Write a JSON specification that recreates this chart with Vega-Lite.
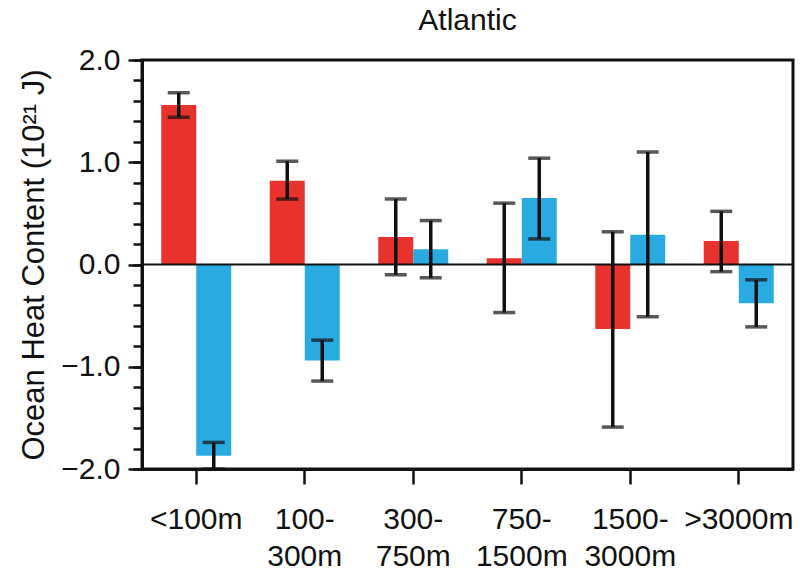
{
  "$schema": "https://vega.github.io/schema/vega-lite/v6.json",
  "autosize": {"type": "none"},
  "width": 651,
  "height": 409,
  "padding": {"left": 142, "top": 60, "right": 7, "bottom": 103},
  "background": "white",
  "title": {"text": "Atlantic", "fontSize": 30, "font": "Liberation Sans", "fontWeight": "normal", "color": "#111111", "anchor": "middle", "baseline": "bottom", "offset": 25, "dy": 46},
  "config": {"view": {"stroke": "#111111", "strokeWidth": 3}, "font": "Liberation Sans"},
  "data": {"values": [
    {"depth": "<100m", "series": "A", "value": 1.56, "lo": 1.44, "hi": 1.68},
    {"depth": "<100m", "series": "B", "value": -1.87, "lo": -2.0, "hi": -1.74},
    {"depth": "100-300m", "series": "A", "value": 0.82, "lo": 0.64, "hi": 1.01},
    {"depth": "100-300m", "series": "B", "value": -0.94, "lo": -1.14, "hi": -0.74},
    {"depth": "300-750m", "series": "A", "value": 0.27, "lo": -0.10, "hi": 0.64},
    {"depth": "300-750m", "series": "B", "value": 0.15, "lo": -0.13, "hi": 0.43},
    {"depth": "750-1500m", "series": "A", "value": 0.06, "lo": -0.47, "hi": 0.60},
    {"depth": "750-1500m", "series": "B", "value": 0.65, "lo": 0.25, "hi": 1.04},
    {"depth": "1500-3000m", "series": "A", "value": -0.63, "lo": -1.59, "hi": 0.32},
    {"depth": "1500-3000m", "series": "B", "value": 0.29, "lo": -0.51, "hi": 1.10},
    {"depth": ">3000m", "series": "A", "value": 0.23, "lo": -0.07, "hi": 0.52},
    {"depth": ">3000m", "series": "B", "value": -0.38, "lo": -0.61, "hi": -0.15}
  ]},
  "resolve": {"axis": {"y": "independent"}},
  "layer": [
    {
      "mark": {"type": "bar"},
      "encoding": {
        "x": {"field": "depth", "type": "nominal", "sort": ["<100m", "100-300m", "300-750m", "750-1500m", "1500-3000m", ">3000m"],
          "scale": {"paddingInner": 0.355, "paddingOuter": 0.1775},
          "axis": {"title": null, "labelAngle": 0, "labelFontSize": 30, "labelLineHeight": 37, "labelColor": "#111111", "labelPadding": 20, "labelDx": -6,
            "tickSize": 15, "tickWidth": 2.5, "tickColor": "#111111", "domainColor": "#111111", "domainWidth": 3,
            "labelExpr": "indexof(datum.label, '-') > 0 ? [substring(datum.label, 0, indexof(datum.label, '-') + 1), substring(datum.label, indexof(datum.label, '-') + 1)] : datum.label"}},
        "xOffset": {"field": "series", "type": "nominal", "sort": ["A", "B"], "scale": {"paddingInner": 0, "paddingOuter": 0}},
        "y": {"field": "value", "type": "quantitative", "scale": {"domain": [-2, 2], "nice": false},
          "axis": {"values": [-2, -1, 0, 1, 2], "format": ".1f", "grid": false, "orient": "left",
            "labelFontSize": 30, "labelColor": "#111111", "labelPadding": 8, "tickSize": 14, "tickWidth": 2.5, "tickColor": "#111111",
            "domainColor": "#111111", "domainWidth": 3,
            "title": "Ocean Heat Content (10²¹ J)", "titleFontSize": 31, "titleFontWeight": "normal", "titleColor": "#111111",
            "titleX": -99, "titleY": 204.5, "titleAngle": -90, "titleBaseline": "alphabetic", "titleAlign": "center"}},
        "color": {"field": "series", "type": "nominal", "scale": {"domain": ["A", "B"], "range": ["#E8322D", "#29ABE2"]}, "legend": null}
      }
    },
    {
      "data": {"values": [{"zero": 0}]},
      "mark": {"type": "rule", "color": "#111111", "strokeWidth": 2},
      "encoding": {
        "y": {"field": "zero", "type": "quantitative",
          "axis": {"values": [-2, -1.8, -1.6, -1.4, -1.2, -1, -0.8, -0.6, -0.4, -0.2, 0, 0.2, 0.4, 0.6, 0.8, 1, 1.2, 1.4, 1.6, 1.8, 2],
            "orient": "left", "labels": false, "grid": false, "domain": false, "title": null, "tickSize": 9, "tickWidth": 2.5, "tickColor": "#111111"}}
      }
    },
    {
      "mark": {"type": "rule", "color": "#111111", "strokeWidth": 3.5},
      "encoding": {
        "x": {"field": "depth", "type": "nominal", "sort": ["<100m", "100-300m", "300-750m", "750-1500m", "1500-3000m", ">3000m"]},
        "xOffset": {"field": "series", "type": "nominal", "sort": ["A", "B"]},
        "y": {"field": "lo", "type": "quantitative", "axis": null},
        "y2": {"field": "hi"}
      }
    },
    {
      "mark": {"type": "tick", "color": "#111111", "size": 22, "thickness": 3.5},
      "encoding": {
        "x": {"field": "depth", "type": "nominal", "sort": ["<100m", "100-300m", "300-750m", "750-1500m", "1500-3000m", ">3000m"]},
        "xOffset": {"field": "series", "type": "nominal", "sort": ["A", "B"]},
        "y": {"field": "lo", "type": "quantitative", "axis": null}
      }
    },
    {
      "mark": {"type": "tick", "color": "#111111", "size": 22, "thickness": 3.5},
      "encoding": {
        "x": {"field": "depth", "type": "nominal", "sort": ["<100m", "100-300m", "300-750m", "750-1500m", "1500-3000m", ">3000m"]},
        "xOffset": {"field": "series", "type": "nominal", "sort": ["A", "B"]},
        "y": {"field": "hi", "type": "quantitative", "axis": null}
      }
    }
  ]
}
